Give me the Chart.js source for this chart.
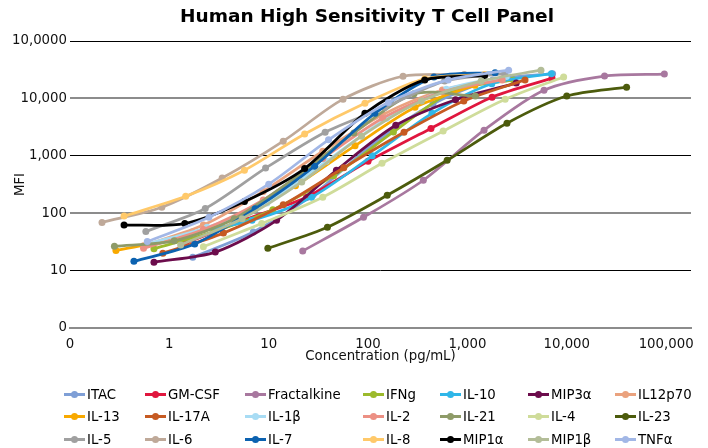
<!DOCTYPE html>
<html><head><meta charset="utf-8">
<script src="https://cdn.jsdelivr.net/npm/chart.js@4.4.1/dist/chart.umd.min.js"></script>
<style>
html,body{margin:0;padding:0;background:#fff;}
#wrap{position:relative;width:708px;height:448px;overflow:hidden;background:#fff;}
canvas{position:absolute;left:0;top:0;}
.lg{position:absolute;height:16px;display:flex;align-items:center;font:13.3px 'DejaVu Sans',Verdana,sans-serif;color:#000;white-space:nowrap;}
.mk{position:relative;width:21px;height:16px;margin-right:2px;flex:none;}
.mk .ln{position:absolute;left:0;top:6.5px;width:21px;height:3px;}
.mk .dt{position:absolute;left:7px;top:4.5px;width:7px;height:7px;border-radius:50%;}
</style></head><body>
<div id="wrap"><canvas id="c" width="708" height="448"></canvas><div id="legend"></div></div>
<script>
const chartTitle = 'Human High Sensitivity T Cell Panel';
const xTitle = 'Concentration (pg/mL)';
const yTitle = 'MFI';
const seriesNames = ['ITAC','GM-CSF','Fractalkine','IFNg','IL-10','MIP3α','IL12p70','IL-13','IL-17A','IL-1β','IL-2','IL-21','IL-4','IL-23','IL-5','IL-6','IL-7','IL-8','MIP1α','MIP1β','TNFα'];
const xTickValues = [0.1, 1, 10, 100, 1000, 10000, 100000];
const xTickLabels = ['0','1','10','100','1,000','10,000','100,000'];
const yTickValues = [1, 10, 100, 1000, 10000, 100000];
const yTickLabels = ['0','10','100','1,000','10,000','10,0000'];

// concentration (pg/mL) and MFI per analyte
const xITAC = [1.72, 7, 28, 112, 450, 1800, 7200];
const yITAC = [17, 47, 210, 1600, 8000, 21000, 27000];
const xGMCSF = [1.46, 5.9, 24, 100, 430, 1770, 7100];
const yGMCSF = [30, 78, 190, 800, 3000, 10500, 22500];
const xFractalkine = [22, 90, 360, 1470, 5900, 24000, 96000];
const yFractalkine = [22, 85, 375, 2800, 13900, 24500, 26500];
const xIFNg = [0.7, 2.8, 11, 45, 180, 720, 2900];
const yIFNg = [24, 48, 115, 450, 2600, 13500, 21000];
const xIL10 = [1.7, 6.8, 27, 110, 440, 1760, 7000];
const yIL10 = [47, 75, 190, 1000, 5500, 18000, 27000];
const xMIP3a = [0.7, 2.9, 12, 48, 190, 760, 3100];
const yMIP3a = [14, 21, 75, 560, 3400, 9500, 18500];
const xIL12p70 = [0.55, 2.2, 8.8, 35, 140, 560, 2240];
const yIL12p70 = [27, 62, 240, 1200, 5200, 14000, 22000];
const xIL13 = [0.29, 1.16, 4.6, 18.6, 74, 297, 1190];
const yIL13 = [22.5, 36, 80, 300, 1500, 7000, 17000];
const xIL17A = [0.86, 3.5, 14, 57, 230, 920, 3800];
const yIL17A = [20, 45, 140, 620, 2570, 9000, 21000];
const xIL1b = [0.6, 2.4, 9.6, 38, 154, 615, 2460];
const yIL1b = [29, 57, 150, 800, 4500, 14500, 24000];
const xIL2 = [0.55, 2.2, 8.8, 35, 140, 560, 2240];
const yIL2 = [24.5, 52, 170, 900, 4500, 13000, 21000];
const xIL21 = [0.28, 1.12, 4.5, 18, 72, 290, 1200];
const yIL21 = [26.5, 33, 80, 400, 2500, 12000, 11000];
const xIL4 = [2.2, 8.5, 35, 138, 570, 2400, 9300];
const yIL4 = [26, 66, 190, 740, 2700, 9700, 23600];
const xIL23 = [9.8, 39, 156, 625, 2500, 10000, 40000];
const yIL23 = [24.4, 57, 205, 835, 3700, 11000, 15700];
const xIL5 = [0.58, 2.3, 9.3, 37, 148, 590, 2370];
const yIL5 = [48, 121, 610, 2580, 7000, 20000, 27000];
const xIL6 = [0.21, 0.84, 3.4, 14, 56, 225, 930];
const yIL6 = [69, 127, 410, 1800, 9700, 24300, 26000];
const xIL7 = [0.44, 1.8, 7.3, 29, 117, 460, 1900];
const yIL7 = [14.5, 29, 120, 660, 5500, 23500, 28000];
const xIL8 = [0.35, 1.46, 5.7, 23, 93, 372, 1490];
const yIL8 = [89, 197, 560, 2400, 8200, 22000, 26000];
const xMIP1a = [0.35, 1.43, 5.7, 23, 93, 372, 1490];
const yMIP1a = [62, 66, 160, 600, 5500, 21000, 25000];
const xMIP1b = [1.3, 5.4, 21.5, 86, 344, 1375, 5500];
const yMIP1b = [28, 80, 350, 2200, 9000, 20000, 31000];
const xTNFa = [0.6, 2.5, 10, 40, 160, 640, 2600];
const yTNFa = [32, 85, 320, 1900, 8500, 21000, 31000];

const seriesX = [xITAC,xGMCSF,xFractalkine,xIFNg,xIL10,xMIP3a,xIL12p70,xIL13,xIL17A,xIL1b,xIL2,xIL21,xIL4,xIL23,xIL5,xIL6,xIL7,xIL8,xMIP1a,xMIP1b,xTNFa];
const seriesY = [yITAC,yGMCSF,yFractalkine,yIFNg,yIL10,yMIP3a,yIL12p70,yIL13,yIL17A,yIL1b,yIL2,yIL21,yIL4,yIL23,yIL5,yIL6,yIL7,yIL8,yMIP1a,yMIP1b,yTNFa];

const colors = ['#7F9FD6','#E0163E','#A8789F','#9CBA2C','#2FB6E8','#6C0C4C','#EAA27E','#F8A900','#C65A22','#A8DCF4','#EC9084','#8E9B68','#CFDC9A','#4C5B0C','#A0A0A0','#BFA999','#0C62B0','#FFC96A','#000000','#B3BD98','#A2B7E6'];

const FONT = "'DejaVu Sans', Verdana, sans-serif";
Chart.defaults.font.family = FONT;
Chart.defaults.font.size = 13.3;
Chart.defaults.color = '#111';

const datasets = seriesNames.map((name, i) => ({
  label: name,
  data: seriesX[i].map((x, j) => ({x: x, y: seriesY[i][j]})),
  borderColor: colors[i],
  backgroundColor: colors[i],
  pointBackgroundColor: colors[i],
  pointBorderWidth: 0,
  pointRadius: 3.5,
  borderWidth: 2.75,
  tension: 0.28,
  fill: false,
  order: seriesNames.length - i
}));

const titlePlugin = {
  id: 'topTitle',
  afterDraw(chart) {
    const ctx = chart.ctx;
    ctx.save();
    ctx.font = 'bold 18.5px ' + FONT;
    ctx.fillStyle = '#000';
    ctx.textAlign = 'center';
    ctx.textBaseline = 'alphabetic';
    ctx.fillText(chartTitle, 367, 22);
    ctx.restore();
  }
};

const grayVals = [1, 100, 10000];

new Chart(document.getElementById('c'), {
  type: 'line',
  data: { datasets: datasets },
  plugins: [titlePlugin],
  options: {
    responsive: false,
    animation: false,
    devicePixelRatio: 1,
    layout: { padding: { left: 0, top: 41, right: 17, bottom: 79 } },
    plugins: { legend: { display: false }, title: { display: false }, tooltip: { enabled: false } },
    scales: {
      x: {
        type: 'logarithmic',
        min: 0.1,
        max: 178000,
        afterBuildTicks: s => { s.ticks = xTickValues.map(v => ({ value: v })); },
        afterFit: s => { s.height = 41; },
        ticks: { callback: (v, i) => xTickLabels[i], autoSkip: false, maxRotation: 0, padding: 9, color: '#111' },
        grid: { display: false, drawTicks: false },
        border: { display: true, color: '#8c8c8c', width: 2 },
        title: { display: true, text: xTitle, color: '#111', padding: { top: 0, bottom: 4 } }
      },
      y: {
        type: 'logarithmic',
        min: 1,
        max: 100000,
        afterBuildTicks: s => { s.ticks = yTickValues.map(v => ({ value: v })); },
        afterFit: s => { s.width = 70; },
        ticks: { callback: (v, i) => yTickLabels[i], autoSkip: false, padding: 3, color: '#111' },
        grid: {
          drawTicks: false,
          color: c => (c.tick && grayVals.includes(c.tick.value)) ? '#8c8c8c' : '#000',
          lineWidth: c => (c.tick && grayVals.includes(c.tick.value)) ? 2 : 1
        },
        border: { display: false },
        title: { display: true, text: yTitle, color: '#111', padding: { top: 13, bottom: 0 } }
      }
    }
  }
});

// legend laid out in columns, built from the series names and colours
const colLeft = [64, 145, 245, 363, 440, 528, 615];
const rowMid = [394, 416, 439];
const lg = document.getElementById('legend');
seriesNames.forEach((name, i) => {
  const r = Math.floor(i / 7), c = i % 7;
  const d = document.createElement('div');
  d.className = 'lg';
  d.style.left = colLeft[c] + 'px';
  d.style.top = (rowMid[r] - 8) + 'px';
  d.innerHTML = '<span class="mk"><span class="ln" style="background:' + colors[i] + '"></span><span class="dt" style="background:' + colors[i] + '"></span></span>';
  d.appendChild(document.createTextNode(name));
  lg.appendChild(d);
});
</script>
</body></html>
